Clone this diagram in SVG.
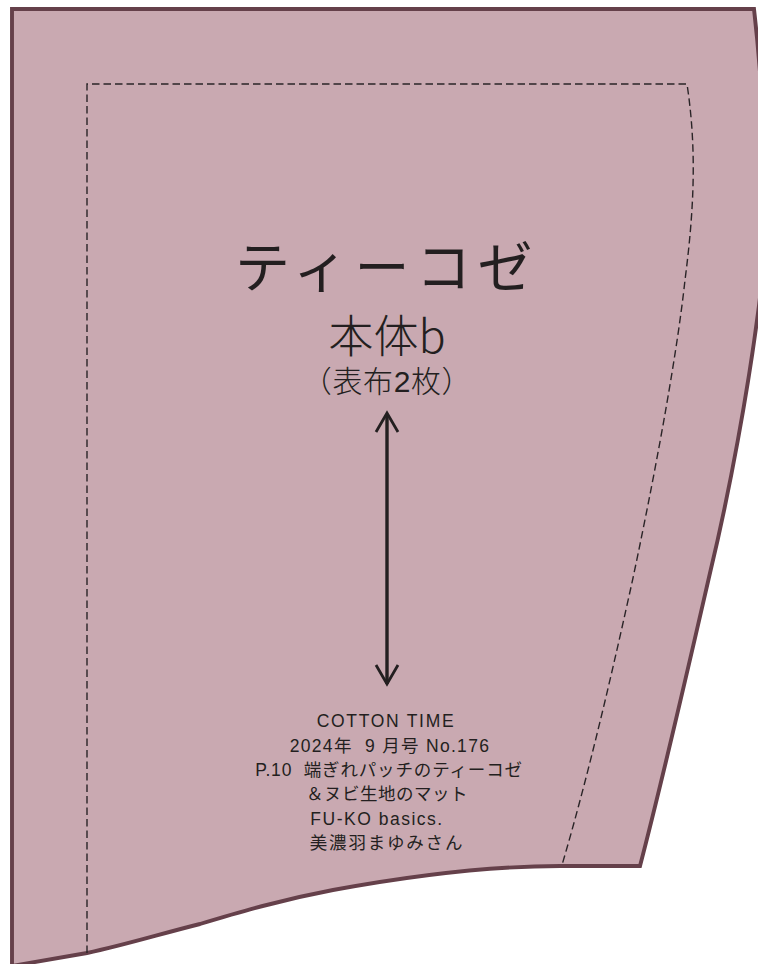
<svg xmlns="http://www.w3.org/2000/svg" width="758" height="964" viewBox="0 0 758 964">
<style>
.t{font-family:"Liberation Sans","Noto Sans CJK JP",sans-serif;fill:#231f20;text-anchor:middle}
.s{font-size:17.5px}
.j{font-family:"Noto Sans CJK JP",sans-serif}
</style>
<g id="piece">
<path d="M12 9H754C762 80 772 215 758 313C748 390 730 490 710 573C690 660 665 770 640 866H560C490 866 420 874 333 890C280 900 240 912 200 924C160 934 125 945 87 953L12 966Z" fill="#c9a9b1" stroke="#65404a" stroke-width="3.9"/>
</g>
<g id="connectors">
<path d="M87 953V84H687C697 150 694 210 685 280C678 345 660 450 633 578C615 660 590 770 562 865" fill="none" stroke="#2a2427" stroke-width="1.4" stroke-dasharray="7.5 4"/>
<path d="M387 414V684" fill="none" stroke="#231f20" stroke-width="3.4"/>
<path d="M376 432L387 413L398 432M376 665L387 684L398 665" fill="none" stroke="#231f20" stroke-width="2.8"/>
</g>
<g id="labels">
<text class="t j" x="387" y="287" font-size="55" letter-spacing="6.5">ティーコゼ</text>
<text class="t j" x="387" y="353" font-size="45" font-weight="300">本体b</text>
<text class="t" x="387" y="392" font-size="30" font-weight="300" letter-spacing=".6">（表布2枚）</text>
</g>
<g id="credit">
<text class="t s" x="386" y="727" letter-spacing="1.7">COTTON TIME</text>
<text class="t s" x="390" y="752" letter-spacing="1.3" xml:space="preserve">2024年  9 月号 No.176</text>
<text class="t s" x="389" y="776" letter-spacing=".85" xml:space="preserve">P.10  端ぎれパッチのティーコゼ</text>
<text class="t s" x="387" y="800" letter-spacing=".5">＆ヌビ生地のマット</text>
<text class="t s" x="377" y="825" letter-spacing="1.5">FU-KO basics.</text>
<text class="t s" x="387" y="849" letter-spacing="1.8">美濃羽まゆみさん</text>
</g>
</svg>
